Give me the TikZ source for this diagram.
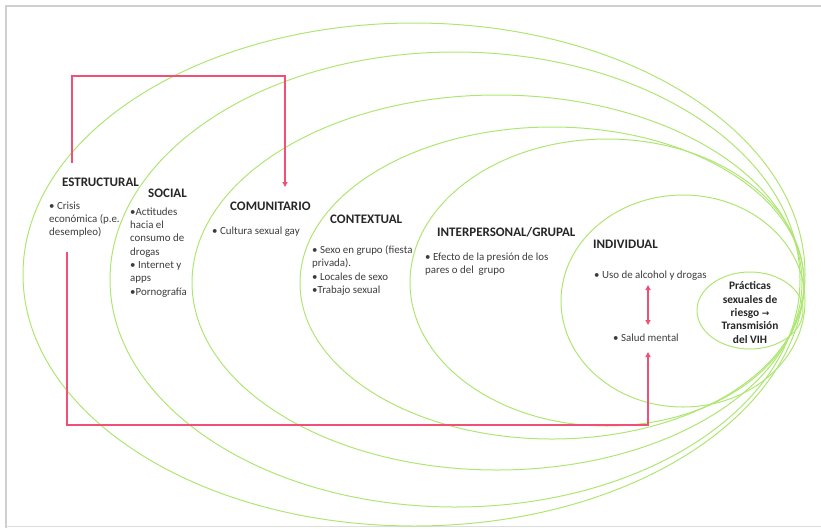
\documentclass[tikz,border=0pt]{standalone}
\usepackage{fontspec}
\setmainfont{Carlito}
\newfontfamily\arrowfont{DejaVu Sans}
\usetikzlibrary{arrows.meta}
\definecolor{ringgreen}{RGB}{175,230,115}
\definecolor{linkred}{RGB}{240,80,118}
\definecolor{bodygray}{RGB}{60,60,60}
\definecolor{framegray}{RGB}{205,208,205}
\tikzset{
  ring/.style={draw=ringgreen, line width=1pt},
  head/.style={font=\fontsize{13}{14}\selectfont\bfseries, text=black!85, inner sep=0pt, anchor=west},
  body/.style={font=\fontsize{10.9}{13.3}\selectfont, text=bodygray, inner sep=0pt, anchor=north west, align=left},
  link/.style={draw=linkred, line width=1.3pt, -{Triangle[length=5pt,width=5pt]}},
  dlink/.style={draw=linkred, line width=1.3pt, {Triangle[length=5pt,width=5pt]}-{Triangle[length=5pt,width=5pt]}},
}
\begin{document}
\begin{tikzpicture}[x=1pt,y=-1pt]
\useasboundingbox (0,0) rectangle (821,528);
% frame
\draw[framegray, line width=2pt] (6,528) -- (6,6) -- (821,6);
\draw[framegray!70, line width=1.5pt] (6,526.5) -- (821,526.5);
% rings
\draw[ring] (414,274.5) ellipse [x radius=391, y radius=251.5];
\draw[ring] (455,279.5) ellipse [x radius=345, y radius=227.5];
\draw[ring] (497,282.5) ellipse [x radius=305, y radius=187.5];
\draw[ring] (552,283) ellipse [x radius=252, y radius=156];
\draw[ring] (607,282.5) ellipse [x radius=197, y radius=143.5];
\draw[ring] (683,301) ellipse [x radius=122, y radius=106];
\draw[ring] (750,310.5) ellipse [x radius=53, y radius=38.5];
% labels
\node[head] (estr) at (62,182) {ESTRUCTURAL};
\node[body] (estrb) at (49,201.5) {• Crisis\\económica (p.e.\\desempleo)};
\node[head] (soc) at (148,193) {SOCIAL};
\node[body] (socb) at (130,207.5) {•Actitudes\\hacia el\\consumo de\\drogas\\• Internet y\\apps\\•Pornografía};
\node[head] (com) at (230,206) {COMUNITARIO};
\node[body] (comb) at (212,226.5) {• Cultura sexual gay};
\node[head] (ctx) at (330,219) {CONTEXTUAL};
\node[body] (ctxb) at (312,245.5) {• Sexo en grupo (fiesta\\privada).\\• Locales de sexo\\•Trabajo sexual};
\node[head] (inter) at (437,232) {INTERPERSONAL/GRUPAL};
\node[body] (interb) at (425,252.5) {• Efecto de la presión de los\\pares o del\ \ grupo};
\node[head] (ind) at (593,244) {INDIVIDUAL};
\node[body] (alc) at (594,270.5) {• Uso de alcohol y drogas};
\node[body] (sal) at (613,333.5) {• Salud mental};
\node[font=\fontsize{11.4}{13.3}\selectfont\bfseries, text=black!85, align=center, inner sep=0pt] (prac) at (750,312.5)
  {Prácticas\\sexuales de\\riesgo {\arrowfont\fontsize{9}{10}\selectfont →}\\Transmisión\\del VIH};
% connectors
\coordinate (estrtop) at (72,163);
\coordinate (comtop) at (285,187);
\coordinate (estrbot) at (67,252);
\coordinate (saltop) at (648,352);
\coordinate (alcbot) at (648,285);
\coordinate (salup) at (648,325);
\draw[link] (estrtop) |- (285,76) -- (comtop);
\draw[link] (estrbot) |- (648,425) -- (saltop);
\draw[dlink] (alcbot) -- (salup);
\end{tikzpicture}
\end{document}
